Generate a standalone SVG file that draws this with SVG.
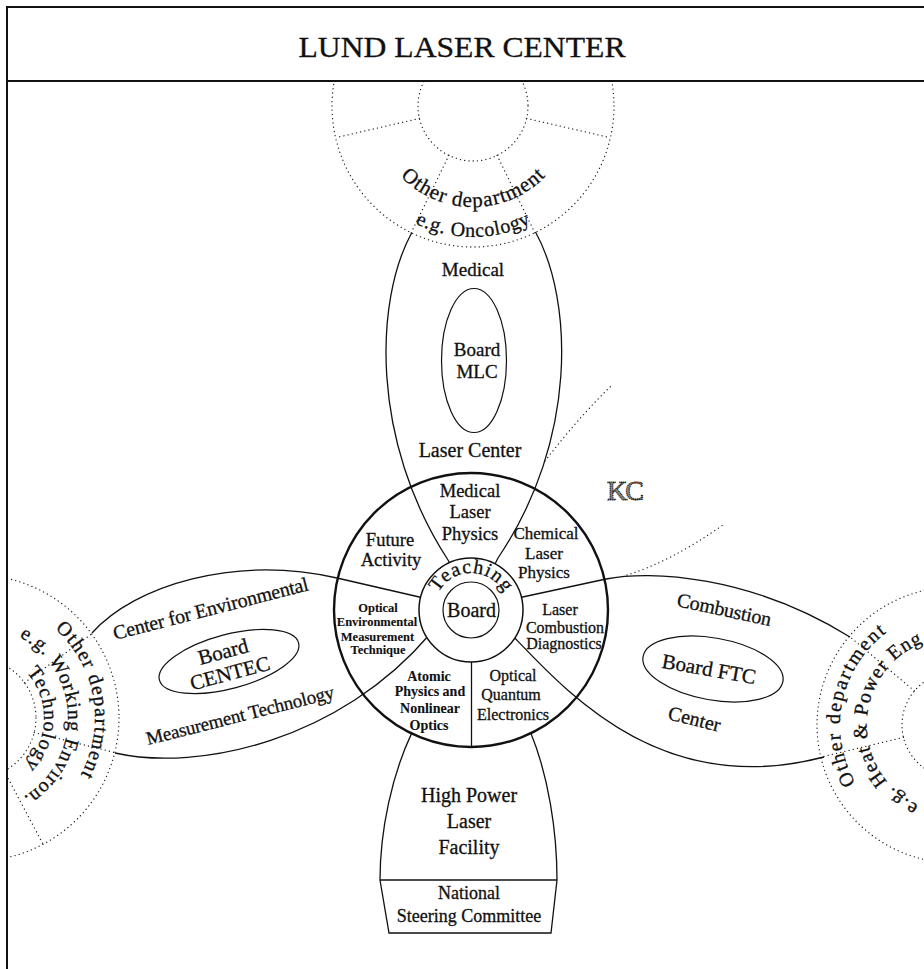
<svg xmlns="http://www.w3.org/2000/svg" width="924" height="969" viewBox="0 0 924 969">
<style>
.t{font-family:"Liberation Serif","DejaVu Serif",serif;fill:#111;stroke:#111;stroke-width:0.3;text-anchor:middle}
.b{font-weight:bold;stroke-width:0.1}
.ln{fill:none;stroke:#111;stroke-width:1.3}
.dot{fill:none;stroke:#222;stroke-width:1.3;stroke-dasharray:0.1 4.2;stroke-linecap:round}
</style>
<defs>
<clipPath id="clipTop"><rect x="8" y="82" width="916" height="887"/></clipPath>
<clipPath id="clipIn"><rect x="8" y="82" width="916" height="887"/></clipPath>
<path id="pTopA" d="M385.5,156.5 A101,101 0 0 0 560.5,156.5"/>
<path id="pTopB" d="M359.6,171.5 A131,131 0 0 0 586.4,171.5"/>
<path id="pLeftA" d="M35.5,614.9 A119,119 0 0 1 67.2,794.5"/>
<path id="pLeftB" d="M-0.2,629.1 A92,92 0 0 1 4.4,805.5"/>
<path id="pLeftC" d="M10,659 A68,68 0 0 1 7.9,778"/>
<path id="pRightA" d="M881.1,813.1 A115,115 0 0 1 921.4,615"/>
<path id="pRightB" d="M939.7,811.7 A88,88 0 0 1 950.4,637.1"/>
<path id="pTeach" d="M434,610 A37,37 0 0 1 508,610"/>
</defs>

<g id="frame">
<path d="M7,969 V7 H924" fill="none" stroke="#111" stroke-width="2"/>
<path d="M7,81 H924" fill="none" stroke="#111" stroke-width="2"/>
<text class="t" x="462" y="57" font-size="30" textLength="327" lengthAdjust="spacingAndGlyphs">LUND LASER CENTER</text>
</g>

<g id="dept-top" clip-path="url(#clipTop)">
<circle class="dot" cx="473" cy="106" r="55"/>
<circle class="dot" cx="473" cy="106" r="141"/>
<path class="dot" d="M526.6,118.4 L610.4,137.7 M419.4,118.4 L335.6,137.7 M497.1,155.4 L534.8,232.7 M448.9,155.4 L411.2,232.7"/>
<text class="t" font-size="21"><textPath href="#pTopA" startOffset="50%" textLength="162">Other department</textPath></text>
<text class="t" font-size="20"><textPath href="#pTopB" startOffset="50%" textLength="120">e.g. Oncology</textPath></text>
</g>

<g id="dept-left" clip-path="url(#clipIn)">
<circle class="dot" cx="-24" cy="718" r="60"/>
<circle class="dot" cx="-24" cy="718" r="143"/>
<path class="dot" d="M24.5,682.7 L91.7,633.9 M34.2,732.5 L114.8,752.6 M4.2,771 L43.1,844.3"/>
<text class="t" font-size="20"><textPath href="#pLeftA" startOffset="50%" textLength="160">Other department</textPath></text>
<text class="t" font-size="20"><textPath href="#pLeftB" startOffset="50%" textLength="194">e.g. Working Environ.</textPath></text>
<text class="t" font-size="20"><textPath href="#pLeftC" startOffset="50%" textLength="102">Technology</textPath></text>
</g>

<g id="dept-right">
<circle class="dot" cx="955" cy="725" r="53"/>
<circle class="dot" cx="955" cy="725" r="138"/>
<path class="dot" d="M914.4,690.9 L849.3,636.3 M903.5,737.4 L820.8,757.2"/>
<text class="t" font-size="20"><textPath href="#pRightA" startOffset="50%" textLength="168">Other department</textPath></text>
<text class="t" font-size="20"><textPath href="#pRightB" startOffset="50%" textLength="212">e.g. Heat &amp; Power Eng.</textPath></text>
</g>

<g id="kc">
<path class="dot" d="M545,461 Q578,418 613,384"/>
<path class="dot" d="M627,575 Q670,562 723,525"/>
<text x="607" y="500" font-family="Liberation Serif, serif" font-size="28" textLength="37" fill="#888" stroke="#111" stroke-width="1" stroke-dasharray="1.3 0.7">KC</text>
</g>

<g id="connectors">
<path class="ln" d="M411.6,233 C375,300 370,440 448,560 L455,572"/>
<path class="ln" d="M535.5,232 C573,300 578,440 498,558 L492,570"/>
<path class="ln" d="M92,633 C135,585 235,555 337,578 L428,599"/>
<path class="ln" d="M115,753 C200,772 340,740 430,634"/>
<path class="ln" d="M518,598 L606,579 C650,570 750,575 850,637"/>
<path class="ln" d="M510,633 C565,690 660,800 824,757"/>
<path class="ln" d="M471.5,660 V747"/>
</g>

<g id="core">
<circle cx="471" cy="610" r="137" fill="none" stroke="#111" stroke-width="2.4"/>
<circle cx="471" cy="610" r="52" fill="#fff" stroke="#111" stroke-width="1.5"/>
<circle cx="471" cy="610" r="28" fill="none" stroke="#111" stroke-width="1.2"/>
<text class="t" font-size="20"><textPath href="#pTeach" startOffset="50%" textLength="80">Teaching</textPath></text>
<text class="t" x="471.5" y="617" font-size="20">Board</text>
</g>

<g id="sector-medical">
<text class="t" font-size="18.5"><tspan x="470" y="496.5">Medical</tspan><tspan x="470" y="518">Laser</tspan><tspan x="470" y="539.5">Physics</tspan></text>
</g>
<g id="sector-future">
<text class="t" font-size="18.5"><tspan x="390" y="546">Future</tspan><tspan x="391" y="566">Activity</tspan></text>
</g>
<g id="sector-chemical">
<text class="t" font-size="17"><tspan x="546" y="539">Chemical</tspan><tspan x="544" y="559">Laser</tspan><tspan x="544" y="578">Physics</tspan></text>
</g>
<g id="sector-combustion">
<text class="t" font-size="16"><tspan x="560" y="615">Laser</tspan><tspan x="565" y="633">Combustion</tspan><tspan x="564" y="649">Diagnostics</tspan></text>
</g>
<g id="sector-quantum">
<text class="t" font-size="16"><tspan x="513" y="681">Optical</tspan><tspan x="511" y="700">Quantum</tspan><tspan x="513" y="720">Electronics</tspan></text>
</g>
<g id="sector-atomic">
<text class="t b" font-size="14"><tspan x="429" y="681">Atomic</tspan><tspan x="430" y="696">Physics and</tspan><tspan x="430" y="713">Nonlinear</tspan><tspan x="429" y="730">Optics</tspan></text>
</g>
<g id="sector-optical-env">
<text class="t b" font-size="12.5"><tspan x="378" y="612">Optical</tspan><tspan x="377" y="626">Environmental</tspan><tspan x="377.5" y="641">Measurement</tspan><tspan x="378" y="654">Technique</tspan></text>
</g>

<g id="mlc">
<text class="t" x="473" y="276" font-size="19">Medical</text>
<ellipse cx="474" cy="360.5" rx="32.5" ry="72" fill="none" stroke="#111" stroke-width="1.2"/>
<text class="t" font-size="19"><tspan x="477" y="356">Board</tspan><tspan x="477" y="377.5">MLC</tspan></text>
<text class="t" x="470" y="457" font-size="20">Laser Center</text>
</g>

<g id="centec">
<ellipse cx="229" cy="661.5" rx="72" ry="27" transform="rotate(-15 229 661.5)" fill="none" stroke="#111" stroke-width="1.2"/>
<text class="t" font-size="21" transform="translate(229,662) rotate(-15)"><tspan x="-3" y="-4.5">Board</tspan><tspan x="-2" y="18">CENTEC</tspan></text>
<text class="t" font-size="20" style="text-anchor:start" transform="translate(115,640) rotate(-14.4)" textLength="201">Center for Environmental</text>
<text class="t" font-size="19" style="text-anchor:start" transform="translate(148,745) rotate(-14.1)" textLength="193">Measurement Technology</text>
</g>

<g id="ftc">
<ellipse cx="713" cy="669" rx="71" ry="31" transform="rotate(10 713 669)" fill="none" stroke="#111" stroke-width="1.2"/>
<text class="t" font-size="21" transform="translate(709,669) rotate(10)" x="0" y="7">Board FTC</text>
<text class="t" font-size="20" style="text-anchor:start" transform="translate(676,606) rotate(12.1)" textLength="96">Combustion</text>
<text class="t" font-size="20" style="text-anchor:start" transform="translate(667,719) rotate(14)">Center</text>
</g>

<g id="hplf">
<path class="ln" d="M411.6,733.4 C392,775 380,830 380,880 L389,933 L551,933 L557,880 C557,830 548,775 530.9,733.3"/>
<path class="ln" d="M380,880 H557"/>
<text class="t" font-size="20"><tspan x="469" y="802">High Power</tspan><tspan x="469" y="828">Laser</tspan><tspan x="469" y="854">Facility</tspan></text>
<text class="t" font-size="18"><tspan x="469" y="899">National</tspan><tspan x="469" y="922">Steering Committee</tspan></text>
</g>
</svg>
